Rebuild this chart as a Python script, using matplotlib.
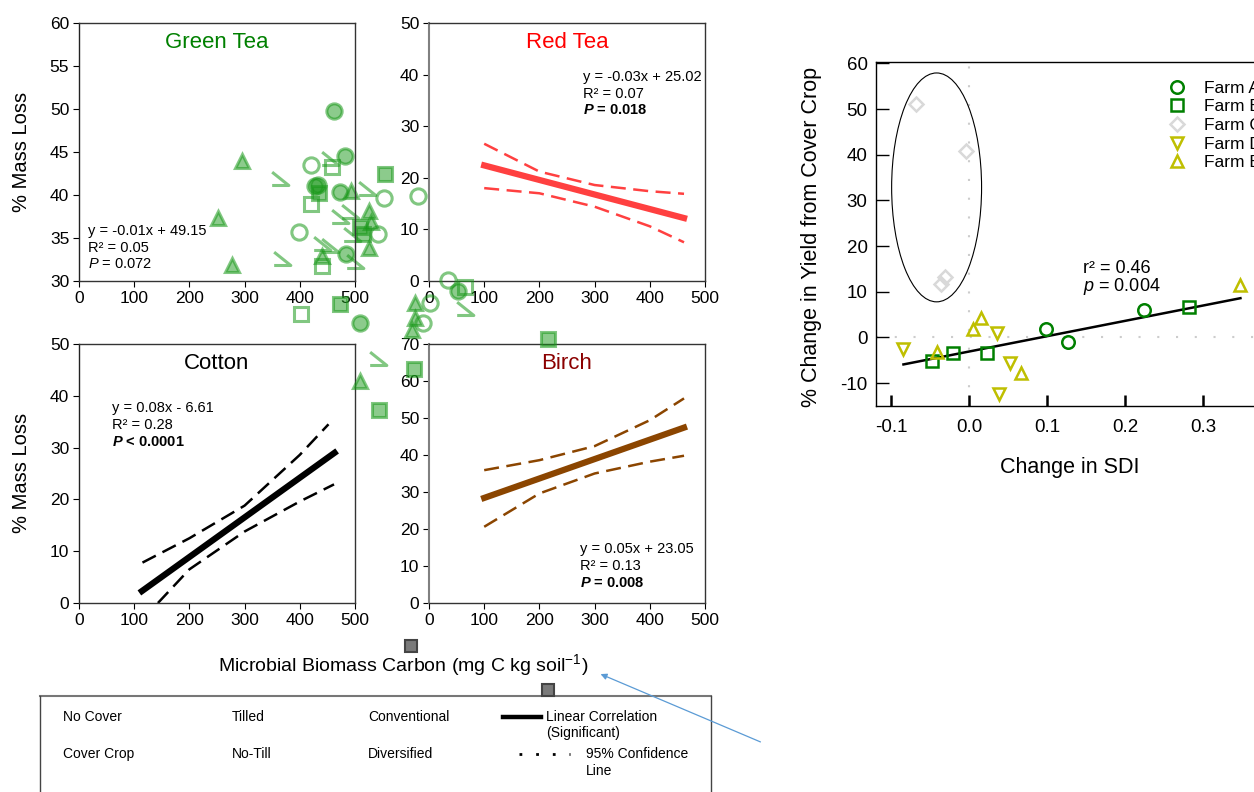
import matplotlib.pyplot as plt
import numpy as np
from matplotlib.path import Path
from matplotlib.patches import Ellipse

plt.rcParams['font.family'] = ['Liberation Sans', 'DejaVu Sans']
plt.rcParams['axes.unicode_minus'] = False
plt.rcParams['mathtext.fontset'] = 'custom'
plt.rcParams['mathtext.rm'] = 'Liberation Sans'
plt.rcParams['mathtext.it'] = 'Liberation Sans:italic'
plt.rcParams['mathtext.bf'] = 'Liberation Sans:bold'
plt.rcParams['mathtext.bfit'] = 'Liberation Sans:italic:bold'

W, H = 1254, 792

# ---- green tea points (they spill out of the panel in the source figure)
gt_fill_circle_x = [462, 481, 428, 433, 472, 484, 509, 687]
gt_fill_circle_y = [49.8, 44.5, 41.0, 41.2, 40.4, 33.1, 25.1, 28.8]
gt_open_circle_x = [421, 399, 553, 541, 614, 669, 624, 636]
gt_open_circle_y = [43.5, 35.7, 39.7, 35.5, 39.9, 30.1, 25.1, 27.5]
gt_fill_tri_x = [296, 251, 278, 493, 525, 529, 525, 440, 609, 609, 603, 509]
gt_fill_tri_y = [44.0, 37.3, 31.9, 40.5, 38.1, 36.9, 33.8, 32.9, 27.4, 25.7, 24.3, 18.4]
gt_open_sq_x = [458, 421, 440, 403, 699]
gt_open_sq_y = [43.3, 39.0, 31.8, 26.2, 29.3]
gt_fill_sq_x = [554, 434, 509, 515, 473, 606, 544, 850]
gt_fill_sq_y = [42.5, 40.2, 36.3, 35.5, 27.3, 19.8, 15.0, 23.3]
gt_hook_x = [364, 455, 521, 491, 473, 440, 455, 494, 367, 500, 699, 542]
gt_hook_y = [41.8, 44.1, 40.6, 37.9, 37.3, 34.2, 34.0, 35.2, 32.4, 32.1, 26.6, 20.8]
gray_sq_x = [602, 850]
gray_sq_y = [-12.4, -17.5]

# ---- regression lines and 95% bands
red_fit_x = [100, 462]
red_fit_y = [22.4, 12.2]
red_band_x = [100, 200, 300, 400, 462]
red_upper = [26.6, 21.2, 18.6, 17.4, 16.9]
red_lower = [18.0, 17.0, 14.4, 10.6, 7.5]

cot_fit_x = [114, 463]
cot_fit_y = [2.3, 29.0]
cot_up_x = [115, 200, 300, 400, 452]
cot_upper = [7.8, 12.5, 18.8, 28.6, 34.5]
cot_lo_x = [143, 200, 300, 400, 462]
cot_lower = [0.0, 6.5, 13.8, 19.6, 22.9]

bir_fit_x = [100, 462]
bir_fit_y = [28.4, 47.4]
bir_band_x = [100, 200, 300, 400, 462]
bir_upper = [35.9, 38.6, 42.4, 49.4, 55.3]
bir_lower = [20.6, 29.6, 35.0, 38.2, 39.8]

# ---- SDI vs yield
farm_a_x = [0.099, 0.127, 0.224]
farm_a_y = [1.8, -1.1, 6.0]
farm_b_x = [-0.047, -0.021, 0.023, 0.282]
farm_b_y = [-5.1, -3.3, -3.3, 6.6]
farm_c_x = [-0.068, -0.004, -0.036, -0.031]
farm_c_y = [51.1, 40.9, 11.7, 13.3]
farm_d_x = [-0.084, 0.036, 0.053, 0.038]
farm_d_y = [-2.6, 0.9, -5.6, -12.4]
farm_e_x = [-0.041, 0.005, 0.015, 0.067, 0.347]
farm_e_y = [-3.2, 1.8, 4.3, -7.8, 11.5]
sdi_fit_x = [-0.084, 0.348]
sdi_fit_y = [-5.9, 8.6]


def rect(l, t, r, b):
    return [l / W, 1 - b / H, (r - l) / W, (b - t) / H]


def fx(px):
    return px / W


def fy(py):
    return 1 - py / H


fig = plt.figure(figsize=(12.54, 7.92), dpi=100)


def panel(box, ylim, yticks, leftcol='#222222'):
    ax = fig.add_axes(rect(*box))
    ax.set_xlim(0, 500)
    ax.set_ylim(*ylim)
    ax.set_xticks(range(0, 501, 100))
    ax.set_yticks(yticks)
    ax.tick_params(direction='out', length=4, labelsize=12.5, pad=3)
    ax.patch.set_alpha(0)
    for s in ax.spines.values():
        s.set_color('#333333')
        s.set_linewidth(1)
    ax.spines['left'].set_color(leftcol)
    ax.spines['left'].set_linewidth(1.5 if leftcol != '#222222' else 1)
    return ax


def stats(ax, x, y, lines, bold):
    dy = [0, 0.066, 0.13]
    ax.text(x, y, lines[0], transform=ax.transAxes, fontsize=10.5, va='center')
    ax.text(x, y - dy[1], lines[1], transform=ax.transAxes, fontsize=10.5, va='center')
    ax.text(x, y - dy[2], lines[2], transform=ax.transAxes, fontsize=10.5, va='center',
            fontweight='bold' if bold else 'normal')


ax_gt = panel((79, 23, 355, 281), (30, 60), range(30, 61, 5))
ax_rt = panel((429, 23, 705, 281), (0, 50), range(0, 51, 10), '#808080')
ax_co = panel((79, 344, 355, 603), (0, 50), range(0, 51, 10))
ax_bi = panel((429, 344, 705, 603), (0, 70), range(0, 71, 10), '#808080')
ax_gt.set_zorder(5)

ax_gt.text(0.5, 0.925, 'Green Tea', transform=ax_gt.transAxes, ha='center', va='center',
           fontsize=16, color='#008000')
ax_rt.text(0.5, 0.925, 'Red Tea', transform=ax_rt.transAxes, ha='center', va='center',
           fontsize=16, color='#ff0000')
ax_co.text(0.5, 0.925, 'Cotton', transform=ax_co.transAxes, ha='center', va='center',
           fontsize=16, color='black')
ax_bi.text(0.5, 0.925, 'Birch', transform=ax_bi.transAxes, ha='center', va='center',
           fontsize=16, color='#8b0000')

stats(ax_gt, 0.033, 0.194, ['y = -0.01x + 49.15', 'R² = 0.05', r'$\mathit{P}$ = 0.072'], False)
stats(ax_rt, 0.558, 0.791, ['y = -0.03x + 25.02', 'R² = 0.07', r'$\mathbfit{P}$ = 0.018'], True)
stats(ax_co, 0.12, 0.753, ['y = 0.08x - 6.61', 'R² = 0.28', r'$\mathbfit{P}$ < 0.0001'], True)
stats(ax_bi, 0.547, 0.208, ['y = 0.05x + 23.05', 'R² = 0.13', r'$\mathbfit{P}$ = 0.008'], True)

# green tea markers
g_face = (0.1, 0.6, 0.1, 0.5)
g_edge = (0.1, 0.6, 0.1, 0.55)
hook = Path([(-1, 1), (1, -0.6), (-1, -0.6)], [Path.MOVETO, Path.LINETO, Path.LINETO])
kw = dict(ls='none', clip_on=False, mew=2.2)
ax_gt.plot(gt_open_circle_x, gt_open_circle_y, marker='o', ms=11, mfc='none', mec=g_edge, **kw)
ax_gt.plot(gt_open_sq_x, gt_open_sq_y, marker='s', ms=10, mfc='none', mec=g_edge, **kw)
ax_gt.plot(gt_hook_x, gt_hook_y, marker=hook, ms=12, mfc='none', mec=g_edge, **kw)
ax_gt.plot(gt_fill_tri_x, gt_fill_tri_y, marker='^', ms=10, mfc=g_face, mec=g_edge, **kw)
ax_gt.plot(gt_fill_sq_x, gt_fill_sq_y, marker='s', ms=10, mfc=g_face, mec=g_edge, **kw)
ax_gt.plot(gt_fill_circle_x, gt_fill_circle_y, marker='o', ms=11, mfc=g_face, mec=g_edge, **kw)
ax_gt.plot(gray_sq_x, gray_sq_y, marker='s', ms=9, mfc='#7a7a7a', mec='#444444', ls='none',
           clip_on=False, mew=1.5)

# regression lines
dash = (0, (6, 3))
ax_rt.plot(red_fit_x, red_fit_y, color='#ff4040', lw=4.5)
ax_rt.plot(red_band_x, red_upper, color='#ff4040', lw=1.8, ls=dash)
ax_rt.plot(red_band_x, red_lower, color='#ff4040', lw=1.8, ls=dash)
ax_co.plot(cot_fit_x, cot_fit_y, color='black', lw=4.5)
ax_co.plot(cot_up_x, cot_upper, color='black', lw=1.8, ls=dash)
ax_co.plot(cot_lo_x, cot_lower, color='black', lw=1.8, ls=dash)
ax_bi.plot(bir_fit_x, bir_fit_y, color='#8b4500', lw=4.5)
ax_bi.plot(bir_band_x, bir_upper, color='#8b4500', lw=1.8, ls=dash)
ax_bi.plot(bir_band_x, bir_lower, color='#8b4500', lw=1.8, ls=dash)

fig.text(fx(22), fy(152), '% Mass Loss', rotation=90, ha='center', va='center', fontsize=14.5)
fig.text(fx(22), fy(473), '% Mass Loss', rotation=90, ha='center', va='center', fontsize=14.5)
fig.text(fx(403), fy(665), r'Microbial Biomass Carbon (mg C kg soil$^{-1}$)', ha='center',
         va='center', fontsize=14)

# ---- right chart
ax_r = fig.add_axes(rect(876, 62, 1281, 406))
ax_r.set_xlim(-0.1192, 0.4)
ax_r.set_ylim(-15, 60.3)
ax_r.set_xticks([-0.1, 0.0, 0.1, 0.2, 0.3])
ax_r.set_xticklabels(['-0.1', '0.0', '0.1', '0.2', '0.3'])
ax_r.set_yticks(range(-10, 61, 10))
ax_r.tick_params(axis='x', direction='in', length=8, width=1.8, labelsize=13.5, pad=9)
ax_r.tick_params(axis='y', direction='in', length=9, width=1, labelsize=13.5, pad=6)
for s in ax_r.spines.values():
    s.set_linewidth(1)
ax_r.axhline(0, color='#cccccc', lw=1.5, ls=(0, (1, 8)), zorder=0)
ax_r.axvline(0, color='#cccccc', lw=1.5, ls=(0, (1, 8)), zorder=0)
ax_r.add_patch(Ellipse((-0.0415, 32.85), 0.1153, 50.1, fill=False, lw=0.8, color='black'))
ax_r.plot(sdi_fit_x, sdi_fit_y, color='black', lw=1.8)
mk = dict(ls='none', mfc='none', mew=1.8, ms=9)
ax_r.plot(farm_a_x, farm_a_y, marker='o', mec='#008000', label='Farm A', **mk)
ax_r.plot(farm_b_x, farm_b_y, marker='s', mec='#008000', label='Farm B', **mk)
ax_r.plot(farm_c_x, farm_c_y, marker='D', mec='#d9d9d9', label='Farm C',
          **dict(mk, ms=7.5))
ax_r.plot(farm_d_x, farm_d_y, marker='v', mec='#bfbf00', label='Farm D', **mk)
ax_r.plot(farm_e_x, farm_e_y, marker='^', mec='#bfbf00', label='Farm E', **mk)
ax_r.legend(loc='upper left', bbox_to_anchor=(0.722, 0.946), frameon=False, fontsize=12.5,
            handlelength=1, handletextpad=1.05, borderpad=0, borderaxespad=0,
            labelspacing=0.2)
ax_r.text(0.146, 14.2, 'r² = 0.46', fontsize=13)
ax_r.text(0.146, 10.2, r'$\mathit{p}$ = 0.004', fontsize=13)
fig.text(fx(812), fy(237), '% Change in Yield from Cover Crop', rotation=90, ha='center',
         va='center', fontsize=15.5)
fig.text(fx(1070), fy(468), 'Change in SDI', ha='center', va='center', fontsize=15.5)

# ---- overlay: legend box and arrow
ov = fig.add_axes([0, 0, 1, 1])
ov.set_xlim(0, W)
ov.set_ylim(H, 0)
ov.axis('off')
ov.patch.set_alpha(0)
ov.plot([40, 711], [696, 696], color='#777777', lw=1.5)
ov.plot([40, 40], [696, 792], color='#444444', lw=1)
ov.plot([711, 711], [696, 792], color='#444444', lw=1)
leg_font = dict(fontsize=10, va='center', family=['Liberation Sans Narrow', 'Liberation Sans'])
for x, y, s in [(63, 717, 'No Cover'), (63, 754, 'Cover Crop'), (232, 717, 'Tilled'),
                (232, 754, 'No-Till'), (368, 717, 'Conventional'), (368, 754, 'Diversified'),
                (546, 717, 'Linear Correlation'), (546, 733, '(Significant)'),
                (586, 754, '95% Confidence'), (586, 771, 'Line')]:
    ov.text(x, y, s, **leg_font)
ov.plot([503, 541], [717, 717], color='black', lw=3.2)
ov.plot([519, 570], [754, 754], color='black', lw=2, ls=(0, (1, 5)))
ov.annotate('', xy=(598, 673), xytext=(763, 743),
            arrowprops=dict(arrowstyle='-|>', color='#5b9bd5', lw=0.9, mutation_scale=9))

fig.savefig('out.png', dpi=100, facecolor='white')
